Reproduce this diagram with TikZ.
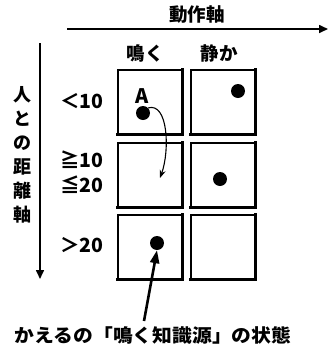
\documentclass[tikz,border=0pt]{standalone}
\usepackage{fontspec}
\setmainfont{Noto Sans CJK JP}
\usetikzlibrary{arrows.meta}
\tikzset{
  cell/.style={draw, line width=1.3pt, minimum width=64pt, minimum height=64pt, inner sep=0pt},
  shade edge/.style={line width=2.6pt, line cap=rect},
  dot/.style={circle, fill=black, minimum size=14pt, inner sep=0pt},
  lbl/.style={font=\fontsize{18.5}{18.5}\selectfont\bfseries, inner sep=0pt},
  rowlbl/.style={font=\fontsize{19.5}{25}\selectfont\bfseries, inner sep=0pt, align=left},
  axis/.style={line width=1.6pt, -{Triangle[length=9pt,width=8pt]}},
}
\begin{document}
\begin{tikzpicture}[x=1pt,y=-1pt]
\useasboundingbox (0,0) rectangle (328,349);
% top axis
\node[lbl] (tax) at (197,15) {動作軸};
\coordinate (tx0) at (67,29);
\coordinate (tx1) at (328,29);
\draw[axis] (tx0) -- (tx1);
% left axis
\coordinate (ly0) at (40,43);
\coordinate (ly1) at (40,279);
\draw[axis] (ly0) -- (ly1);
\node[lbl, align=center, font=\fontsize{18}{24}\selectfont\bfseries] (lax) at (22,155) {人\\と\\の\\距\\離\\軸};
% column headings
\node[lbl] (c1) at (145,53) {鳴く};
\node[lbl] (c2) at (219,53) {静か};
% cells
\foreach \r/\cy in {1/102,2/175,3/247}{
  \foreach \c/\cx in {1/150,2/223}{
    \node[cell] (b\r\c) at (\cx,\cy) {};
    \draw[shade edge] (b\r\c.north east) -- (b\r\c.south east) -- (b\r\c.south west);
  }
}
% row labels
\node[rowlbl, anchor=west] (r1) at (60,101) {＜10};
\node[rowlbl, anchor=west] (r2) at (60,172) {≧10\\≦20};
\node[rowlbl, anchor=west] (r3) at (60,245) {＞20};
% dots
\node[dot] (d11) at (143,113) {};
\node[lbl, font=\fontsize{20}{20}\selectfont\bfseries] (A) at (142,96) {A};
\node[dot] (d12) at (238,91) {};
\node[dot] (d22) at (220,179) {};
\node[dot] (d31) at (157,243) {};
% curved arrow
\coordinate (tip) at (160,178);
\draw[line width=1.1pt, -{Stealth[length=8pt,width=6pt]}] (d11.north east) .. controls (168,102) and (170,150) .. (tip);
% bottom caption
\node[lbl, xscale=1.07] (cap) at (153,335) {かえるの「鳴く知識源」の状態};
\draw[line width=2.6pt, -{Triangle[length=13pt,width=9pt]}] (144,321) -- (d31.south);
\end{tikzpicture}
\end{document}
